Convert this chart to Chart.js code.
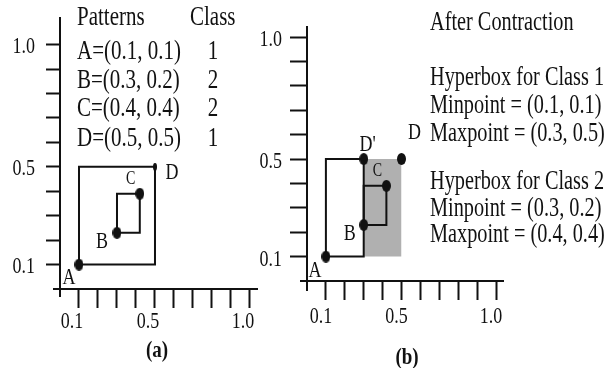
<!DOCTYPE html>
<html><head><meta charset="utf-8">
<script src="https://cdn.jsdelivr.net/npm/chart.js@4.4.1/dist/chart.umd.min.js"></script>
<style>
html,body{margin:0;padding:0;background:#fff;width:604px;height:368px;overflow:hidden;}
#wrap{position:relative;width:604px;height:368px;overflow:hidden;}
canvas.panel{position:absolute;top:0;}
.t{position:absolute;font-family:"Liberation Serif","Times New Roman",serif;font-size:21px;line-height:21px;height:21px;white-space:nowrap;color:#111;transform:scaleY(1.34);transform-origin:0 50%;z-index:2;}
.r{font-size:20.3px;}
.c{text-align:center;transform-origin:50% 50%;}
.cap{font-weight:bold;font-size:19px;line-height:19px;height:19px;transform:scaleY(1.2);}
</style></head><body>
<div id="wrap">
<canvas id="ca" class="panel" width="290" height="368" style="left:0px"></canvas>
<canvas id="cb" class="panel" width="354" height="368" style="left:250px"></canvas>
</div>
<script>
// ---------------- data ----------------
const tickValues = [0.1,0.2,0.3,0.4,0.5,0.6,0.7,0.8,0.9,1.0];
const tickLabels = ['0.1','0.5','1.0'];
// pattern table (as written)
const patternNames = ['A','B','C','D'];
const patternX = [0.1,0.3,0.4,0.5];
const patternY = [0.1,0.2,0.4,0.5];
const patternClass = [1,2,2,1];
// pattern points as drawn
const pointX = [0.1,0.3,0.42,0.5];
const pointY = [0.1,0.23,0.39,0.5];
// panel (a): hyperboxes before contraction
const boxA1Min = [0.1,0.1], boxA1Max = [0.5,0.5];
const boxA2Min = [0.3,0.23], boxA2Max = [0.42,0.39];
// panel (b): hyperboxes after contraction (as drawn)
const boxB1Min = [0.1,0.1], boxB1Max = [0.3,0.5];
const boxB2Min = [0.3,0.23], boxB2Max = [0.42,0.39];
const contracted = [0.3,0.5]; // D'
const shadeMin = [0.3,0.1], shadeMax = [0.5,0.5];
// hyperbox text (as written)
const hbMin = [[0.1,0.1],[0.3,0.2]];
const hbMax = [[0.3,0.5],[0.4,0.4]];

// ---------------- helpers ----------------
const INK = '#111';
const SERIF = '"Liberation Serif","Times New Roman",serif';
function rectPath(mn, mx){
  return [{x:mn[0],y:mn[1]},{x:mx[0],y:mn[1]},{x:mx[0],y:mx[1]},{x:mn[0],y:mx[1]},{x:mn[0],y:mn[1]}];
}
function ellipse(w,h){
  const c=document.createElement('canvas');c.width=w;c.height=h;
  const g=c.getContext('2d');g.fillStyle=INK;g.beginPath();
  g.ellipse(w/2,h/2,w/2,h/2,0,0,Math.PI*2);g.fill();return c;
}
const dot = ellipse(9,12);
const tinyDot = ellipse(4,8);
function fmt(p){return '('+p[0].toFixed(1)+', '+p[1].toFixed(1)+')';}
function sText(ctx,t,x,y,size,align){
  ctx.save();ctx.translate(x,y);ctx.scale(1,1.34);
  ctx.font=size+'px '+SERIF;ctx.textAlign=align;ctx.textBaseline='middle';
  ctx.fillStyle=INK;ctx.fillText(t,0,0);ctx.restore();
}
function lineDs(data){
  return {data, showLine:true, borderColor:INK, borderWidth:2, pointRadius:0, fill:false, tension:0, order:1};
}
function pointDs(data, style){
  return {data, showLine:false, pointStyle:style, pointRadius:5, backgroundColor:INK, borderColor:INK, order:0};
}
function pts(idx){return idx.map(i=>({x:pointX[i],y:pointY[i]}));}

function makeChart(id, cfg){
  const overlay = {
    id:'overlay',
    afterDraw(chart){
      const ctx=chart.ctx, ca=chart.chartArea, xs=chart.scales.x, ys=chart.scales.y;
      ctx.save();ctx.strokeStyle=INK;ctx.lineWidth=2;ctx.beginPath();
      ctx.moveTo(ca.left-7,ca.bottom);ctx.lineTo(ca.left,ca.bottom);
      ctx.moveTo(ca.left,ca.bottom);ctx.lineTo(ca.left,ca.bottom+cfg.yStub);
      ctx.stroke();ctx.restore();
      tickValues.forEach(v=>{
        const s=v.toFixed(1);
        if(!tickLabels.includes(s)) return;
        sText(ctx,s,xs.getPixelForValue(v)+cfg.xLabDx,ca.bottom+cfg.xLabDy,18,'center');
        sText(ctx,s,ca.left-cfg.yLabGap,ys.getPixelForValue(v)+cfg.yLabDy,18,'right');
      });
      cfg.labels.forEach(l=>{
        sText(ctx,l.t,xs.getPixelForValue(l.p[0])+l.dx,ys.getPixelForValue(l.p[1])+l.dy,l.size||18,'center');
      });
    }
  };
  const axisCommon = (len, extra) => Object.assign({
    type:'linear', min:0,
    afterBuildTicks:s=>{s.ticks=tickValues.map(v=>({value:v}));},
    grid:{display:true,drawOnChartArea:false,drawTicks:true,tickLength:len,tickWidth:2,tickColor:INK},
    border:{display:true,color:INK,width:2},
    ticks:{display:false}
  }, extra);
  return new Chart(document.getElementById(id),{
    type:'scatter',
    data:{datasets:cfg.datasets},
    options:{
      responsive:false, animation:false, devicePixelRatio:1,
      layout:{padding:{top:cfg.top,right:cfg.right,left:0,bottom:0}},
      plugins:{legend:{display:false},tooltip:{enabled:false}},
      scales:{
        x:axisCommon(19,{max:cfg.xMax, afterFit:s=>{s.height=cfg.xH;}}),
        y:axisCommon(cfg.yTick,{max:cfg.yMax, afterFit:s=>{s.width=cfg.yW;}})
      }
    },
    plugins:[overlay]
  });
}

// ---------------- panel (a) ----------------
makeChart('ca',{
  top:18, right:33, xH:79, yW:60, yTick:14, xMax:1.037, yMax:1.109, yStub:8,
  xLabDx:-7, xLabDy:33, yLabGap:25, yLabDy:2,
  datasets:[
    pointDs(pts([0,1,2]), dot),
    pointDs(pts([3]), tinyDot),
    lineDs(rectPath(boxA1Min,boxA1Max)),
    lineDs(rectPath(boxA2Min,boxA2Max))
  ],
  labels:[
    {t:'A',p:[pointX[0],pointY[0]],dx:-10,dy:13},
    {t:'B',p:[pointX[1],pointY[1]],dx:-15,dy:9},
    {t:'C',p:[pointX[2],pointY[2]],dx:-9,dy:-15,size:14},
    {t:'D',p:[pointX[3],pointY[3]],dx:17,dy:6}
  ]
});

// ---------------- panel (b) ----------------
makeChart('cb',{
  top:27, right:101, xH:87, yW:57, yTick:17, xMax:1.037, yMax:1.041, yStub:10,
  xLabDx:-5, xLabDy:36, yLabGap:25, yLabDy:3,
  datasets:[
    pointDs(pts([0,1,2,3]).concat([{x:contracted[0],y:contracted[1]}]), dot),
    lineDs(rectPath(boxB1Min,boxB1Max)),
    lineDs(rectPath(boxB2Min,boxB2Max)),
    {data:[{x:shadeMin[0],y:shadeMax[1]},{x:shadeMax[0],y:shadeMax[1]}], showLine:true,
     borderWidth:0, borderColor:'rgba(0,0,0,0)', pointRadius:0, backgroundColor:'#b0b0b0',
     fill:{value:shadeMin[1]}, order:5}
  ],
  labels:[
    {t:'A',p:[pointX[0],pointY[0]],dx:-11,dy:14},
    {t:'B',p:[pointX[1],pointY[1]],dx:-14,dy:9},
    {t:'C',p:[pointX[2],pointY[2]],dx:-9,dy:-15,size:14},
    {t:"D'",p:contracted,dx:4,dy:-14},
    {t:'D',p:[pointX[3],pointY[3]],dx:13,dy:-26}
  ]
});

// ---------------- text blocks ----------------
const wrap=document.getElementById('wrap');
function addText(t,left,cy,cls,width){
  const d=document.createElement('div');d.className='t'+(cls?' '+cls:'');
  d.textContent=t;d.style.left=left+'px';
  const h=(cls&&cls.indexOf('cap')>=0)?19:21;
  d.style.top=(cy-h/2)+'px';
  if(width){d.style.width=width+'px';}
  wrap.appendChild(d);
}
addText('Patterns',77,16);
addText('Class',190,16);
const rowY=[50,79,107,137];
patternNames.forEach((n,i)=>{
  addText(n+'='+fmt([patternX[i],patternY[i]]),77,rowY[i]);
  addText(String(patternClass[i]),198,rowY[i],'c',30);
});
addText('After Contraction',430,21,'r');
addText('Hyperbox for Class 1',430,76,'r');
addText('Minpoint = '+fmt(hbMin[0]),430,104,'r');
addText('Maxpoint = '+fmt(hbMax[0]),430,132,'r');
addText('Hyperbox for Class 2',430,180,'r');
addText('Minpoint = '+fmt(hbMin[1]),430,207,'r');
addText('Maxpoint = '+fmt(hbMax[1]),430,233,'r');
addText('(a)',137,349,'c cap',40);
addText('(b)',387,356,'c cap',40);
</script>
</body></html>
